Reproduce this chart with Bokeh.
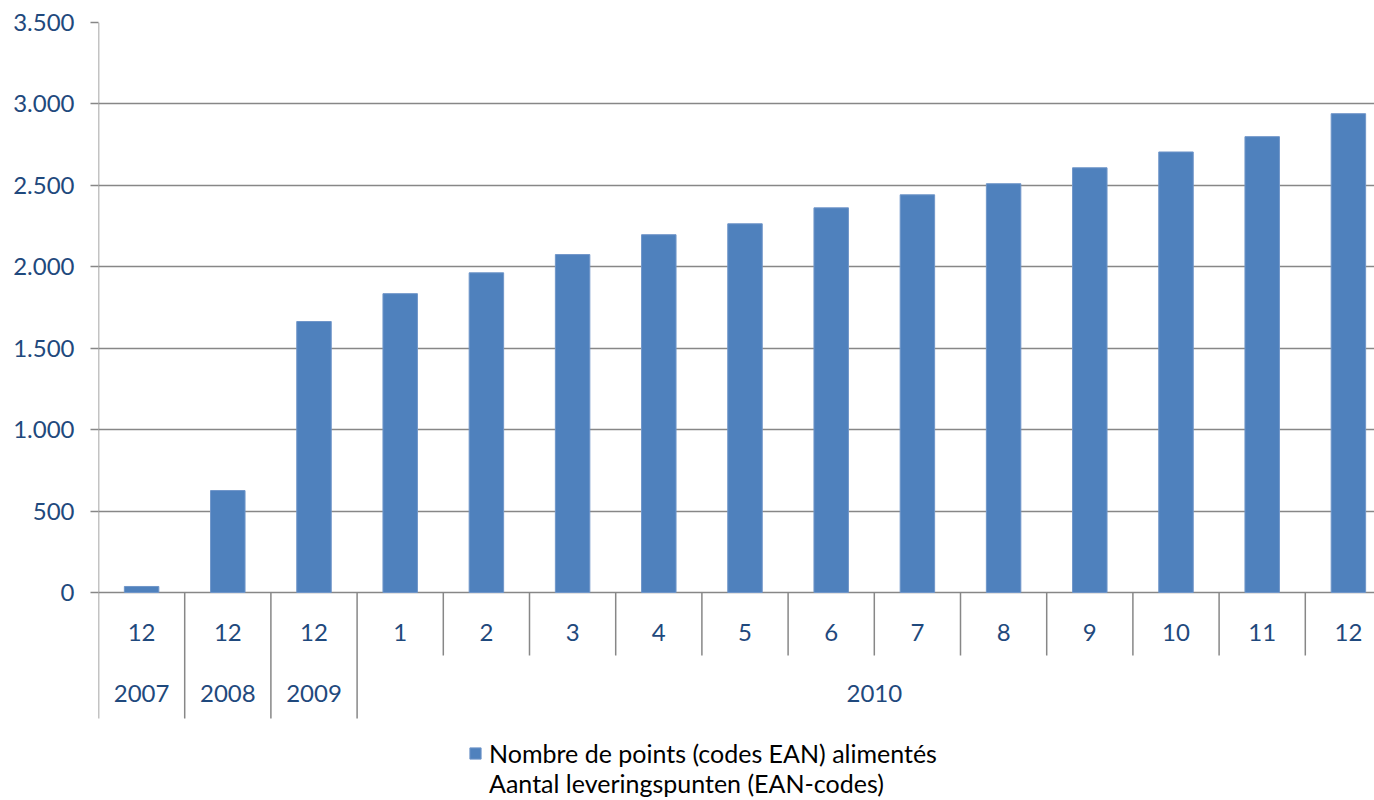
from bokeh.plotting import figure
from bokeh.models import Range1d, FixedTicker, ColumnDataSource, Legend, LegendItem
from bokeh.embed import file_html
from bokeh.resources import INLINE
from bokeh.core.properties import value

# ---- data ----
months = ["12", "12", "12", "1", "2", "3", "4", "5", "6", "7", "8", "9", "10", "11", "12"]
years = ["2007", "2008", "2009", "2010"]
year_spans = [1, 1, 1, 12]
values = [37, 626, 1664, 1835, 1963, 2075, 2197, 2264, 2362, 2442, 2510, 2608, 2705, 2799, 2940]
y_ticks = [0, 500, 1000, 1500, 2000, 2500, 3000, 3500]
y_tick_labels = ["0", "500", "1.000", "1.500", "2.000", "2.500", "3.000", "3.500"]
legend_line1 = "Nombre de points (codes EAN) alimentés"
legend_line2 = "Aantal leveringspunten (EAN-codes)"

# ---- layout constants ----
FONT = "Lato"
TXT = "#1F497D"
GRID = "#878787"
BAR = "#4F81BD"
W, H = 1374, 800
LEFT, TOP = 98, 22
frame_w = W - LEFT
frame_h = H - TOP
cat_px = 86.2
ymax = y_ticks[-1]
units_per_px = ymax / 570.0
y_start = ymax - frame_h * units_per_px
x_end = frame_w / cat_px

month_row = -40 * units_per_px
year_row = -101 * units_per_px
month_div = -63 * units_per_px
year_div = -126 * units_per_px

p = figure(width=W, height=H, output_backend="svg", toolbar_location=None,
           x_axis_location=None, min_border_left=LEFT, min_border_top=TOP,
           min_border_bottom=0, min_border_right=0)
p.x_range = Range1d(0, x_end)
p.y_range = Range1d(y_start, ymax)
p.outline_line_color = None
p.xgrid.visible = False
p.ygrid.ticker = FixedTicker(ticks=y_ticks)
p.ygrid.grid_line_color = GRID
p.ygrid.grid_line_width = 1.5

ax = p.yaxis[0]
ax.ticker = FixedTicker(ticks=y_ticks)
ax.major_label_overrides = {t: l for t, l in zip(y_ticks, y_tick_labels)}
ax.axis_line_color = None
ax.major_tick_in = 0
ax.major_tick_out = 8
ax.major_tick_line_color = GRID
ax.major_tick_line_width = 1.5
ax.minor_tick_line_color = None
ax.major_label_standoff = 16
ax.major_label_text_font = FONT
ax.major_label_text_font_size = "24px"
ax.major_label_text_color = TXT

n = len(values)
xs = [i + 0.5 for i in range(n)]
src = ColumnDataSource(dict(x=xs, top=values, month=months))
bars = p.vbar(x="x", top="top", width=0.4, bottom=0, source=src,
              fill_color=BAR, line_color="#7096c9", line_width=1)
# invisible renderer used only for the second legend line
blank = p.vbar(x=[], top=[], width=0.4, fill_alpha=0, line_alpha=0)

# left axis line extending through category area
p.segment(x0=[0], y0=[year_div], x1=[0], y1=[ymax], line_color=GRID, line_width=1.5)

# category dividers
bounds = []
acc = 0
for s in year_spans:
    acc += s
    bounds.append(acc)
mx = [i for i in range(1, n) if i not in bounds]
p.segment(x0=mx, y0=[0] * len(mx), x1=mx, y1=[month_div] * len(mx), line_color=GRID, line_width=1.5)
yb = [b for b in bounds if b < n]
p.segment(x0=yb, y0=[0] * len(yb), x1=yb, y1=[year_div] * len(yb), line_color=GRID, line_width=1.5)

# month labels
p.text(x="x", y=month_row, text="month", source=src, text_align="center", text_baseline="middle",
       text_font=value(FONT), text_font_size="24px", text_color=TXT)

# year labels
starts = [b - s for b, s in zip(bounds, year_spans)]
ycent = [st + s / 2 for st, s in zip(starts, year_spans)]
p.text(x=ycent, y=[year_row] * len(years), text=years, text_align="center", text_baseline="middle",
       text_font=value(FONT), text_font_size="24px", text_color=TXT)

leg = Legend(items=[LegendItem(label=legend_line1, renderers=[bars]),
                    LegendItem(label=legend_line2, renderers=[blank])],
             location=(370, 2), spacing=0,
             glyph_width=14, glyph_height=14, label_standoff=7, padding=0, margin=0,
             border_line_color=None, background_fill_alpha=0,
             label_height=26,
             label_text_font=FONT, label_text_font_size="25px", label_text_color="#000000")
p.add_layout(leg, "center")

open("out.html", "w").write(file_html(p, INLINE))
